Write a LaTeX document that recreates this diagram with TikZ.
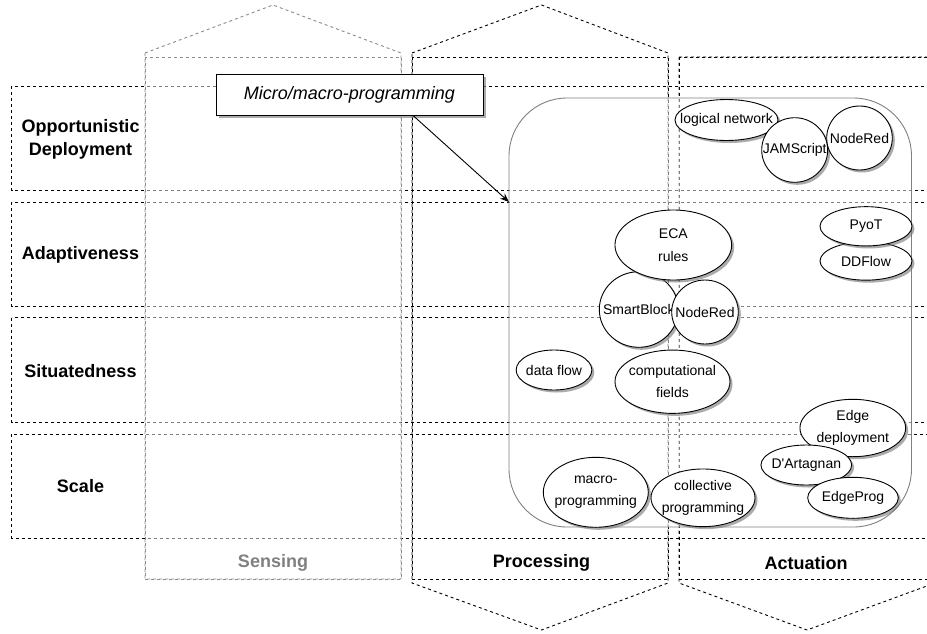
\documentclass[tikz,border=0pt]{standalone}
\usepackage{fontspec}
\setmainfont{Liberation Sans}
\usetikzlibrary{shapes.geometric,shadows,arrows.meta}

\begin{document}
\begin{tikzpicture}[x=1pt,y=-1pt,
  dashline/.style={dash pattern=on 3pt off 3pt, line width=0.9pt},
  rowbox/.style={dashline, draw=black},
  colbox/.style={dashline, draw=black},
  faintcol/.style={dashline, draw=black!45},
  rowlabel/.style={font=\fontsize{18}{22.5}\selectfont\bfseries, align=center, inner sep=0pt},
  collabel/.style={font=\fontsize{18}{22.5}\selectfont\bfseries, inner sep=0pt},
  softshadow/.style={drop shadow={shadow xshift=2.5pt, shadow yshift=-2.5pt, fill=black!55, opacity=0.6}},
  bubble/.style={ellipse, draw=black, fill=white, line width=0.9pt, inner sep=-48pt,
    font=\fontsize{14}{22.5}\selectfont, align=center, softshadow},
  esize/.style 2 args={minimum width=#1pt, minimum height=#2pt},
  container/.style={draw=black!50, fill=white, fill opacity=0.5, line width=0.9pt,
    rounded corners=58pt, inner sep=0pt},
  callout/.style={draw=black, fill=white, line width=0.9pt, inner sep=0pt,
    font=\fontsize{18}{22}\selectfont\itshape,
    drop shadow={shadow xshift=3pt, shadow yshift=-3pt, fill=black!50, opacity=0.65}},
]
\useasboundingbox (0,0) rectangle (927,633);
\clip (0,0) rectangle (927,633);

% horizontal property bands
\draw[rowbox] (11.5,86) rectangle (945,190.5);
\draw[rowbox] (11.5,202) rectangle (945,306.5);
\draw[rowbox] (11.5,317.5) rectangle (945,422);
\draw[rowbox] (11.5,434) rectangle (945,538);

\node[rowlabel] (opp)   at (80.5,139.5) {Opportunistic\\Deployment};
\node[rowlabel] (adapt) at (80.5,255)   {Adaptiveness};
\node[rowlabel] (situ)  at (80.5,371)   {Situatedness};
\node[rowlabel] (scale) at (80.5,486.5) {Scale};

% Processing column
\draw[colbox] (412,57) rectangle (668,579);
\draw[colbox] (412,53) -- (541.5,5) -- (668,53) -- (668,583) -- (541.5,630) -- (412,583) -- cycle;

% Actuation column
\draw[colbox] (679,57) rectangle (935,579);
\draw[colbox] (679,57) -- (935,57) -- (935,583) -- (807,630) -- (679,583) -- cycle;

% Sensing column (faded)
\draw[faintcol, fill=white, fill opacity=0.5] (145,53) -- (273,5) -- (401,53) -- (401,579) -- (145,579) -- cycle;
\draw[faintcol] (145,57) rectangle (401,579);

\node[collabel, text=black!50] (sensing) at (273,563) {Sensing};
\node[collabel] (processing) at (541.5,563) {Processing};
\node[collabel] (actuation)  at (806,563)   {Actuation};

% translucent container of approaches
\node[container, minimum width=402.5pt, minimum height=429pt] (cont) at (710.25,312.5) {};
\coordinate (tip) at (509,202);

% approaches
\node[bubble, esize={103}{41}]    (lognet)  at (726.5,120)  {logical network};
\node[bubble, esize={66}{64.6}]   (jam)     at (794.7,150)  {JAMScript};
\node[bubble, esize={65.6}{64}]   (nrtop)   at (859.5,138)  {NodeRed};

\node[bubble, esize={92}{38.3}]   (ddflow)  at (866,261)    {DDFlow};
\node[bubble, esize={92}{39.3}]   (pyot)    at (866,226.3)  {PyoT};

\node[bubble, esize={79}{75.6}]   (smart)   at (638.8,309.5) {SmartBlock};
\node[bubble, esize={66.6}{64}]   (nrmid)   at (705,312)    {NodeRed};
\node[bubble, esize={116.7}{70}]  (eca)     at (673.3,245)  {ECA\\rules};

\node[bubble, esize={75.7}{40}]   (dflow)   at (554,370)    {data flow};
\node[bubble, esize={115}{63.3}]  (cfields) at (672.5,381.7) {computational\\fields};

\node[bubble, esize={105.7}{57.4}] (edgedep) at (852.8,428) {Edge\\deployment};
\node[bubble, esize={90.7}{40}]   (dart)    at (806.3,465)  {D\textquotesingle Artagnan};
\node[bubble, esize={90.6}{41}]   (eprog)   at (853,497.8)  {EdgeProg};

\node[bubble, esize={105}{70}]    (macro)   at (595.8,492.3) {macro-\\programming};
\node[bubble, esize={104}{57.7}]  (collect) at (703,497.8)  {collective\\programming};

% callout
\node[callout, minimum width=267pt, minimum height=41pt] (mm) at (349.5,94.5) {Micro/macro-programming};
\coordinate (mmfoot) at ([xshift=63.5pt]mm.south);
\draw[-{Stealth[length=9pt,width=7pt]}, line width=0.9pt] (mmfoot) -- (tip);
\end{tikzpicture}
\end{document}
